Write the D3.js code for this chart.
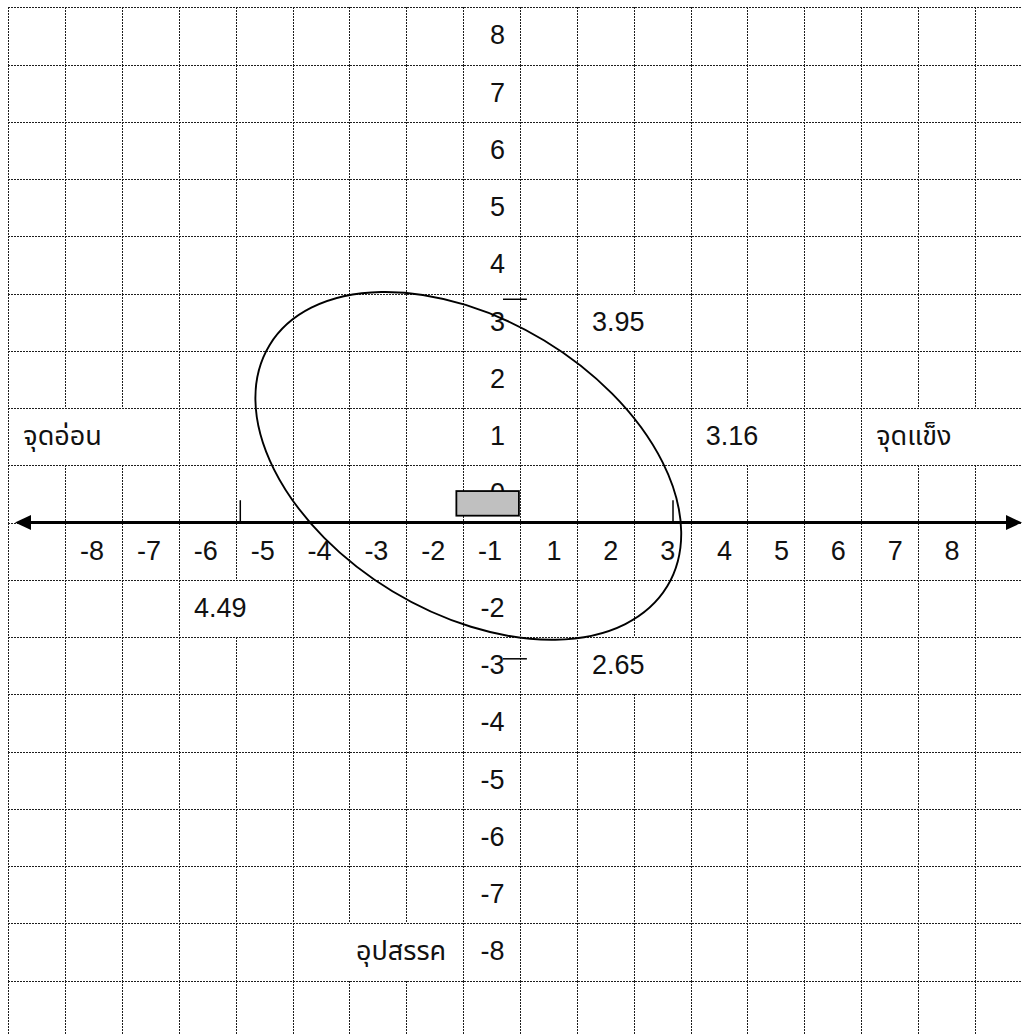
<!DOCTYPE html>
<html>
<head>
<meta charset="utf-8">
<script src="https://cdn.jsdelivr.net/npm/d3@7"></script>
<style>
  body { margin: 0; background: #fff; }
  text { font-family: "Liberation Sans", Arial, "Noto Sans Thai", sans-serif; font-size: 27px; fill: #111; }
</style>
</head>
<body>
<div id="draw"></div>
<script>
// numbers printed along the two axes
const xLabels = [-8, -7, -6, -5, -4, -3, -2, -1, 1, 2, 3, 4, 5, 6, 7, 8];
const yLabels = [8, 7, 6, 5, 4, 3, 2, 1, 0, -2, -3, -4, -5, -6, -7, -8];

// words / values sitting in merged cells of the table
const cellTexts = ["จุดอ่อน", "จุดแข็ง", "อุปสรรค", "3.95", "3.16", "4.49", "2.65"];
const cellFrom  = [-9, 6, -4, 1, 3, -6, 1];
const cellTo    = [-6, 10, -1, 3, 5, -4, 3];
const cellRow   = [1, 1, -8, 3, 1, -2, -3];
const cellAlign = ["start", "start", "end", "start", "start", "start", "start"];

// little marks on the axes
const xMarks = [2.69, -4.92];
const yMarks = [3.90, -2.38];

// the ellipse
const ellipseCenter = [-0.91, 0.99];
const ellipseRadii = [4.09, 2.56];
const ellipseAngle = 31.2;

// grey box near the origin
const boxX = [-1.12, -0.02];
const boxY = [0.12, 0.55];

class SwotGridRenderer {

    constructor() {
        this.w = 1022;
        this.h = 1035;
    }

    render() {
        this.vis = this._initSvg();
        this.x = d3.scaleLinear().domain([-9, 9]).range([8.3, 1031.8]);
        this.y = d3.scaleLinear().domain([9, -9]).range([7.3, 1037.8]);
        this._drawGrid();
        this._drawLabels();
        this._drawEllipse();
        this._drawBox();
        this._drawAxis();
        this._drawMarks();
    }

    _initSvg() {
        return d3.select("#draw").append("svg")
            .attr("width", this.w)
            .attr("height", this.h);
    }

    _isMerged(k, r) {
        for (let i = 0; i < cellTexts.length; i++) {
            if (cellRow[i] === r && cellFrom[i] < k && k < cellTo[i]) return true;
        }
        return false;
    }

    _drawGrid() {
        const x = this.x, y = this.y;
        const g = this.vis.append("g")
            .attr("stroke", "#1e1e1e")
            .attr("stroke-width", 1)
            .attr("stroke-dasharray", "2,1")
            .attr("shape-rendering", "crispEdges");

        d3.range(-8, 10).forEach((v) => {
            g.append("line")
                .attr("x1", x(-9)).attr("x2", this.w)
                .attr("y1", Math.round(y(v)) + 0.5).attr("y2", Math.round(y(v)) + 0.5);
        });

        //vertical lines are cut where a cell is merged
        d3.range(-9, 9).forEach((r) => {
            d3.range(-9, 10).forEach((k) => {
                if (this._isMerged(k, r)) return;
                g.append("line")
                    .attr("x1", Math.round(x(k)) + 0.5).attr("x2", Math.round(x(k)) + 0.5)
                    .attr("y1", y(r + 1)).attr("y2", Math.min(y(r), this.h));
            });
        });
    }

    _drawLabels() {
        const x = this.x, y = this.y;
        const base = 37;

        this.vis.append("g").selectAll("text").data(xLabels).enter().append("text")
            .attr("text-anchor", "middle")
            .attr("x", (n) => x(n < 0 ? n + 0.5 : n - 0.5) + (n > 0 ? 5.5 : -1.5))
            .attr("y", y(0) + base)
            .text((n) => n);

        this.vis.append("g").selectAll("text").data(yLabels).enter().append("text")
            .attr("text-anchor", "middle")
            .attr("x", (n) => x(-0.5) + (n >= 0 ? 6 : 1))
            .attr("y", (n) => y(n + 1) + base)
            .text((n) => n);

        cellTexts.forEach((t, i) => {
            this.vis.append("text")
                .attr("text-anchor", cellAlign[i])
                .attr("x", cellAlign[i] === "end" ? x(cellTo[i]) - 17 : x(cellFrom[i]) + 15)
                .attr("y", y(cellRow[i] + 1) + base)
                .text(t);
        });
    }

    _drawEllipse() {
        const x = this.x, y = this.y;
        this.vis.append("ellipse")
            .attr("cx", 0).attr("cy", 0)
            .attr("rx", x(ellipseRadii[0]) - x(0))
            .attr("ry", y(0) - y(ellipseRadii[1]))
            .attr("transform", "translate(" + x(ellipseCenter[0]) + "," + y(ellipseCenter[1]) + ") rotate(" + ellipseAngle + ")")
            .style("fill", "none")
            .style("stroke", "black")
            .style("stroke-width", 1.9);
    }

    _drawBox() {
        const x = this.x, y = this.y;
        this.vis.append("rect")
            .attr("x", x(boxX[0]))
            .attr("y", y(boxY[1]))
            .attr("width", x(boxX[1]) - x(boxX[0]))
            .attr("height", y(boxY[0]) - y(boxY[1]))
            .style("fill", "#c0c0c0")
            .style("stroke", "black")
            .style("stroke-width", 1.8);
    }

    _drawAxis() {
        const y0 = this.y(0);
        this.vis.append("line")
            .attr("x1", 20).attr("x2", this.w - 5)
            .attr("y1", y0).attr("y2", y0)
            .style("stroke", "black")
            .style("stroke-width", 3);
        //arrow heads on both ends
        this.vis.append("path")
            .attr("d", "M15," + y0 + "L31," + (y0 - 7.5) + "L31," + (y0 + 7.5) + "Z")
            .style("fill", "black");
        this.vis.append("path")
            .attr("d", "M1022," + y0 + "L1006," + (y0 - 7.5) + "L1006," + (y0 + 7.5) + "Z")
            .style("fill", "black");
    }

    _drawMarks() {
        const x = this.x, y = this.y;
        xMarks.forEach((m) => {
            this.vis.append("line")
                .attr("x1", x(m)).attr("x2", x(m))
                .attr("y1", y(0.39)).attr("y2", y(0))
                .style("stroke", "black").style("stroke-width", 1.5);
        });
        yMarks.forEach((m) => {
            this.vis.append("line")
                .attr("x1", x(-0.30)).attr("x2", x(0.12))
                .attr("y1", y(m)).attr("y2", y(m))
                .style("stroke", "black").style("stroke-width", 1.5);
        });
    }
}

new SwotGridRenderer().render();
</script>
</body>
</html>
